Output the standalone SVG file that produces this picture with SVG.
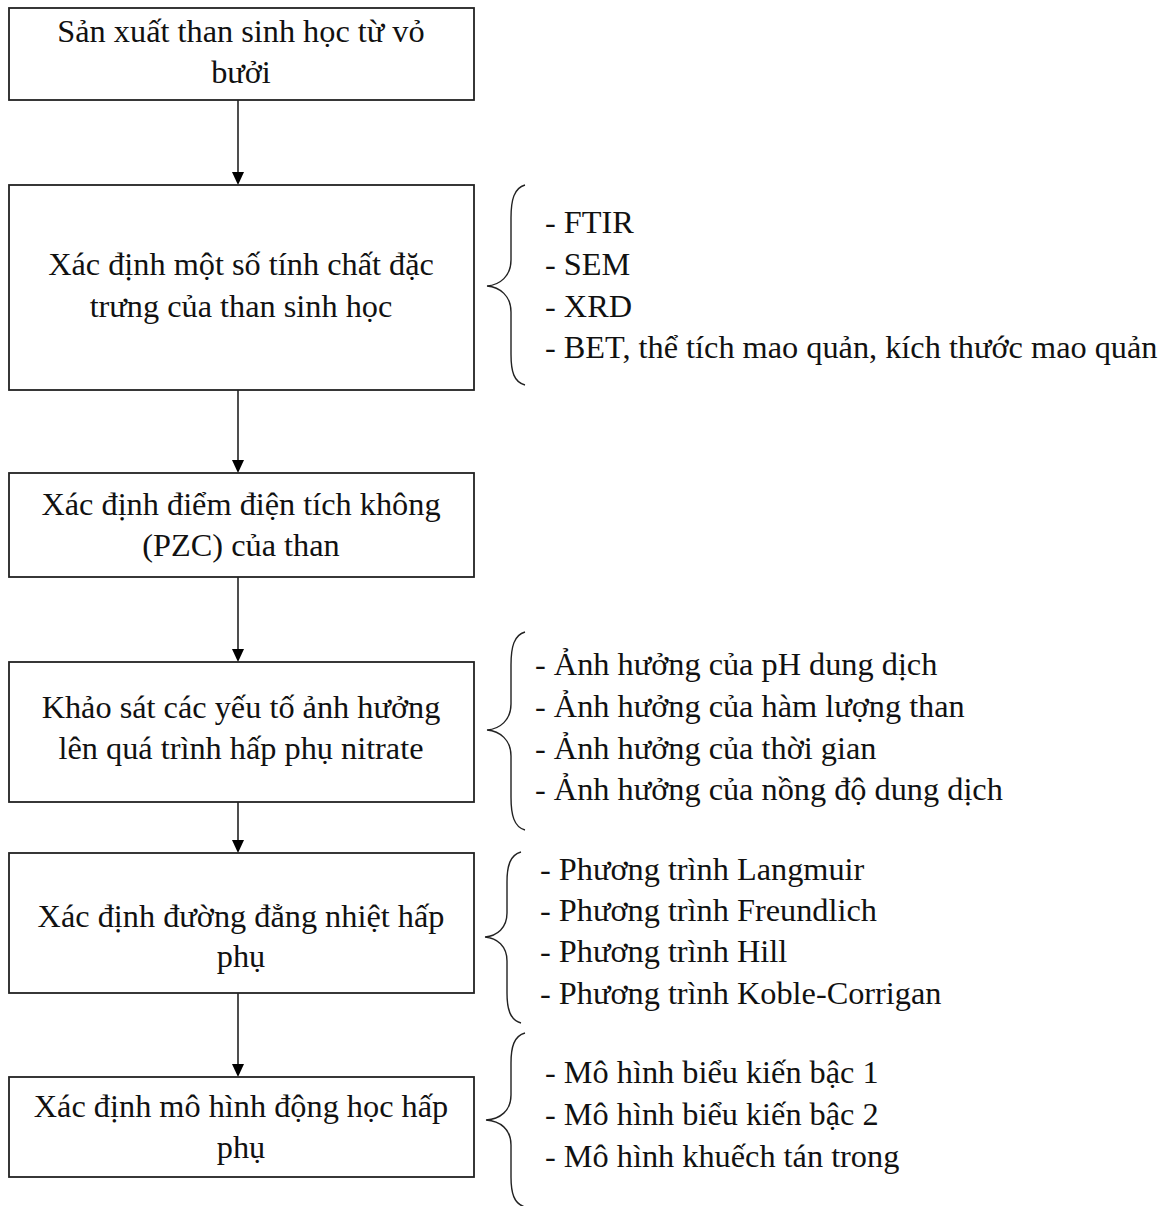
<svg xmlns="http://www.w3.org/2000/svg" width="1173" height="1206" viewBox="0 0 1173 1206">
<style>
.box{fill:#fff;stroke:#222;stroke-width:1.8}
.t{font-family:"Liberation Serif","Times New Roman",serif;font-size:32.3px;fill:#111}
.c{text-anchor:middle}
.br{fill:none;stroke:#222;stroke-width:1.4}
.con{stroke:#222;stroke-width:1.6;fill:none}
.ah{fill:#000}
</style>
<rect width="1173" height="1206" fill="#fff"/>
<g id="connectors">
<line class="con" x1="238" y1="100" x2="238" y2="172"/>
<path class="ah" d="M232,172 L244,172 L238,185 Z"/>
<line class="con" x1="238" y1="390" x2="238" y2="460"/>
<path class="ah" d="M232,460 L244,460 L238,473 Z"/>
<line class="con" x1="238" y1="577" x2="238" y2="649"/>
<path class="ah" d="M232,649 L244,649 L238,662 Z"/>
<line class="con" x1="238" y1="802" x2="238" y2="840"/>
<path class="ah" d="M232,840 L244,840 L238,853 Z"/>
<line class="con" x1="238" y1="993" x2="238" y2="1064"/>
<path class="ah" d="M232,1064 L244,1064 L238,1077 Z"/>
</g>
<g id="n1">
<rect class="box" x="9" y="8" width="465" height="92"/>
<text class="t c" x="241" y="42">Sản xuất than sinh học từ vỏ</text>
<text class="t c" x="241" y="83">bưởi</text>
</g>
<g id="n2">
<rect class="box" x="9" y="185" width="465" height="205"/>
<text class="t c" x="241" y="275">Xác định một số tính chất đặc</text>
<text class="t c" x="241" y="317">trưng của than sinh học</text>
</g>
<g id="n2-list">
<path class="br" d="M525,185 C514,188 511,200 511,218 L511,260 C511,276 500,285 487,286 C500,287 511,296 511,312 L511,354 C511,372 514,382 525,385"/>
<text class="t" x="545" y="233">- FTIR</text>
<text class="t" x="545" y="275">- SEM</text>
<text class="t" x="545" y="317">- XRD</text>
<text class="t" x="545" y="358">- BET, thể tích mao quản, kích thước mao quản</text>
</g>
<g id="n3">
<rect class="box" x="9" y="473" width="465" height="104"/>
<text class="t c" x="241" y="515">Xác định điểm điện tích không</text>
<text class="t c" x="241" y="556">(PZC) của than</text>
</g>
<g id="n4">
<rect class="box" x="9" y="662" width="465" height="140"/>
<text class="t c" x="241" y="718">Khảo sát các yếu tố ảnh hưởng</text>
<text class="t c" x="241" y="759">lên quá trình hấp phụ nitrate</text>
</g>
<g id="n4-list">
<path class="br" d="M525,632 C514,635 511,647 511,665 L511,704 C511,720 500,729 487,730 C500,731 511,740 511,756 L511,797 C511,815 514,827 525,830"/>
<text class="t" x="535" y="675">- Ảnh hưởng của pH dung dịch</text>
<text class="t" x="535" y="717">- Ảnh hưởng của hàm lượng than</text>
<text class="t" x="535" y="759">- Ảnh hưởng của thời gian</text>
<text class="t" x="535" y="800">- Ảnh hưởng của nồng độ dung dịch</text>
</g>
<g id="n5">
<rect class="box" x="9" y="853" width="465" height="140"/>
<text class="t c" x="241" y="927">Xác định đường đẳng nhiệt hấp</text>
<text class="t c" x="241" y="967">phụ</text>
</g>
<g id="n5-list">
<path class="br" d="M521,852 C510,855 507,866 507,882 L507,913 C507,928 497,936 485,937 C497,938 507,946 507,961 L507,993 C507,1009 510,1020 521,1023"/>
<text class="t" x="540" y="880">- Phương trình Langmuir</text>
<text class="t" x="540" y="921">- Phương trình Freundlich</text>
<text class="t" x="540" y="962">- Phương trình Hill</text>
<text class="t" x="540" y="1004">- Phương trình Koble-Corrigan</text>
</g>
<g id="n6">
<rect class="box" x="9" y="1077" width="465" height="100"/>
<text class="t c" x="241" y="1117">Xác định mô hình động học hấp</text>
<text class="t c" x="241" y="1158">phụ</text>
</g>
<g id="n6-list">
<path class="br" d="M525,1033 C514,1036 511,1047 511,1063 L511,1095 C511,1111 500,1119 486,1120 C500,1121 511,1129 511,1145 L511,1177 C511,1193 514,1204 525,1207"/>
<text class="t" x="545" y="1083">- Mô hình biểu kiến bậc 1</text>
<text class="t" x="545" y="1125">- Mô hình biểu kiến bậc 2</text>
<text class="t" x="545" y="1167">- Mô hình khuếch tán trong</text>
</g>
</svg>
